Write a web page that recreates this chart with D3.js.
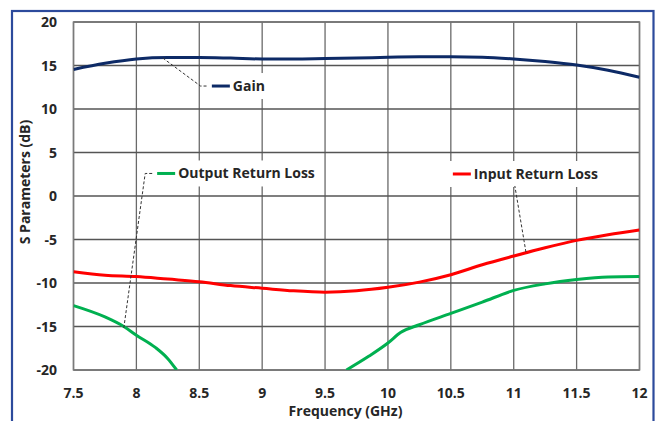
<!DOCTYPE html>
<html><head><meta charset="utf-8">
<script src="https://cdn.jsdelivr.net/npm/d3@7"></script>
<style>html,body{margin:0;padding:0;background:#fff;}svg{display:block;}</style>
</head><body>
<svg id="c" width="662" height="421"></svg>
<script>
// ---- data ----
const xTicks = [7.5, 8, 8.5, 9, 9.5, 10, 10.5, 11, 11.5, 12];
const yTicks = [-20, -15, -10, -5, 0, 5, 10, 15, 20];
const gainFreq = [7.5, 7.75, 8, 8.25, 8.5, 8.75, 9, 9.25, 9.5, 9.75, 10, 10.25, 10.5, 10.75, 11, 11.25, 11.5, 11.75, 12];
const gainVals = [14.55, 15.25, 15.75, 15.92, 15.92, 15.85, 15.75, 15.75, 15.8, 15.85, 15.95, 16.0, 16.0, 15.95, 15.75, 15.45, 15.05, 14.45, 13.65];
const inFreq = [7.5, 7.75, 8, 8.25, 8.5, 8.75, 9, 9.25, 9.5, 9.75, 10, 10.25, 10.5, 10.75, 11, 11.25, 11.5, 11.75, 12];
const inVals = [-8.7, -9.1, -9.25, -9.55, -9.85, -10.3, -10.6, -10.9, -11.05, -10.9, -10.5, -9.9, -9.05, -7.9, -6.9, -5.95, -5.1, -4.45, -3.9];
const outFreq = [7.5, 7.75, 7.9, 8, 8.15, 8.25, 8.32, 9.0, 9.67, 9.85, 10, 10.1, 10.25, 10.5, 10.75, 11, 11.25, 11.5, 11.75, 12];
const outVals = [-12.6, -13.9, -15.0, -16.0, -17.4, -18.7, -20, null, -20, -18.4, -16.9, -15.7, -14.8, -13.5, -12.2, -10.85, -10.1, -9.6, -9.3, -9.25];
const labels = ["Gain", "Output Return Loss", "Input Return Loss"];
const colors = ["#0d2a66", "#00b050", "#ff0000"];
// annotation anchors in data units: [anchor, elbow, labelStart]
const annFreq = [[8.21, 8.51, 8.60], [7.90, 8.07, 8.165], [11.097, 11.009, 10.516]];
const annVals = [[15.86, 12.64, 12.64], [-15.17, 2.59, 2.59], [-6.44, 1.15, 2.53]];

// ---- layout ----
const svg = d3.select("#c");
const L = 73.5, R = 639.5, T = 22, B = 370;
const x = d3.scaleLinear().domain([7.5, 12]).range([L, R]);
const y = d3.scaleLinear().domain([-20, 20]).range([B, T]);
const font = "'Open Sans', Lato, sans-serif";

// outer frame
svg.append("rect").attr("x", 12).attr("y", 11).attr("width", 641.5).attr("height", 440)
  .attr("fill", "none").attr("stroke", "#2c4a9c").attr("stroke-width", 2.2);

// grid
const g = svg.append("g");
g.selectAll(".vg").data(xTicks).join("line")
  .attr("x1", d => x(d)).attr("x2", d => x(d)).attr("y1", T).attr("y2", B)
  .attr("stroke", "#6a6a6a").attr("stroke-width", 1.3);
g.selectAll(".hg").data(yTicks).join("line")
  .attr("x1", L).attr("x2", R).attr("y1", d => y(d)).attr("y2", d => y(d))
  .attr("stroke", "#555").attr("stroke-width", 1.3);
g.append("rect").attr("x", L).attr("y", T).attr("width", R - L).attr("height", B - T)
  .attr("fill", "none").attr("stroke", "#7a7a7a").attr("stroke-width", 1.5);

// tick labels
svg.append("g").selectAll("text").data(yTicks).join("text")
  .attr("x", 57).attr("y", d => y(d) + 5).attr("text-anchor", "end")
  .attr("font-family", font).attr("font-weight", "bold").attr("font-size", 14)
  .attr("fill", "#262626").text(d => d);
svg.append("g").selectAll("text").data(xTicks).join("text")
  .attr("x", d => x(d)).attr("y", 398).attr("text-anchor", "middle")
  .attr("font-family", font).attr("font-weight", "bold").attr("font-size", 14)
  .attr("fill", "#262626").text(d => d);

// axis titles
svg.append("text").attr("x", 345.5).attr("y", 416).attr("text-anchor", "middle")
  .attr("font-family", font).attr("font-weight", "bold").attr("font-size", 14)
  .attr("fill", "#262626").text("Frequency (GHz)");
svg.append("text").attr("transform", "translate(30,182) rotate(-90)").attr("text-anchor", "middle")
  .attr("font-family", font).attr("font-weight", "bold").attr("font-size", 14)
  .attr("fill", "#262626").text("S Parameters (dB)");

// clip
svg.append("clipPath").attr("id", "clip").append("rect")
  .attr("x", L).attr("y", T).attr("width", R - L).attr("height", B - T);

const line = d3.line().defined(d => d[1] !== null).x(d => x(d[0])).y(d => y(d[1])).curve(d3.curveMonotoneX);
const series = [
  gainFreq.map((f, i) => [f, gainVals[i]]),
  outFreq.map((f, i) => [f, outVals[i]]),
  inFreq.map((f, i) => [f, inVals[i]])
];
const cg = svg.append("g").attr("clip-path", "url(#clip)");
series.forEach((s, i) => {
  cg.append("path").datum(s).attr("d", line).attr("fill", "none")
    .attr("stroke", colors[i]).attr("stroke-width", 3).attr("stroke-linejoin", "round");
});

// annotations
const boxPad = [[-7, 6], [-5, 6], [-3, 5]];
labels.forEach((lab, i) => {
  const ax = x(annFreq[i][0]), ay = y(annVals[i][0]);
  const ex = x(annFreq[i][1]), ey = y(annVals[i][1]);
  const lx = x(annFreq[i][2]), ly = y(annVals[i][2]);
  const grp = svg.append("g");
  const box = grp.append("rect").attr("fill", "#fff");
  const t = grp.append("text").attr("x", lx + 21).attr("y", ly + 5)
    .attr("font-family", font).attr("font-weight", "bold").attr("font-size", 14)
    .attr("fill", "#262626").text(lab);
  const bb = t.node().getBBox();
  box.attr("x", lx + boxPad[i][0]).attr("y", ly - 13).attr("width", bb.x + bb.width - lx - boxPad[i][0] + boxPad[i][1]).attr("height", 26);
  grp.append("line").attr("x1", lx).attr("x2", lx + 18).attr("y1", ly).attr("y2", ly)
    .attr("stroke", colors[i]).attr("stroke-width", 3);
  const pts = i === 2 ? [[ax, ay], [ex, ey]] : [[ax, ay], [ex, ey], [lx - 4, ey]];
  svg.append("path").attr("d", d3.line()(pts)).attr("fill", "none")
    .attr("stroke", "#333").attr("stroke-width", 1).attr("stroke-dasharray", "3,2");
});
</script>
</body></html>
